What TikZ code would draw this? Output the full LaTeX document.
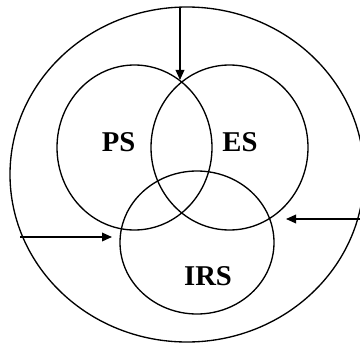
\documentclass[tikz,border=0pt]{standalone}
\usepackage{fontspec}
\setmainfont{Liberation Serif}
\usetikzlibrary{arrows.meta}

\begin{document}
\begin{tikzpicture}[x=0.75pt,y=-0.75pt,line width=1pt,
    setlabel/.style={font=\fontsize{21.5}{25}\selectfont\bfseries,inner sep=0pt},
    flow/.style={-{Triangle[length=7.5pt,width=6.5pt]}}]
  \useasboundingbox (0,0) rectangle (360,346);
  % environment and the three sets
  \draw (187,174.5) ellipse [x radius=177, y radius=167.5];
  \draw (134.5,147.5) ellipse [x radius=77.5, y radius=82.5];
  \draw (229.5,147.5) ellipse [x radius=78.5, y radius=82.5];
  \draw (197,242.5) ellipse [x radius=77, y radius=71.5];
  \node[setlabel] (ps) at (118.5,142.5) {PS};
  \node[setlabel] (es) at (240,142.5) {ES};
  \node[setlabel] (irs) at (208,276) {IRS};
  % inputs from outside
  \coordinate (topin) at (180,7);
  \coordinate (topend) at (180,80);
  \coordinate (leftin) at (20,237);
  \coordinate (leftend) at (112,237);
  \coordinate (rightin) at (360,219);
  \coordinate (rightend) at (286,219);
  \draw[flow] (topin) -- (topend);
  \draw[flow] (leftin) -- (leftend);
  \draw[flow] (rightin) -- (rightend);
\end{tikzpicture}
\end{document}
